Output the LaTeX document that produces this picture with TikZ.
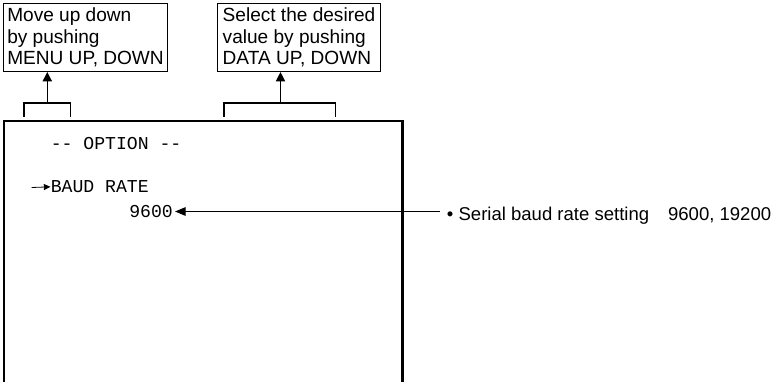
\documentclass[tikz,border=0pt]{standalone}
\usepackage{fontspec}
\setmainfont{Liberation Sans}
\setmonofont{Liberation Mono}
\usetikzlibrary{arrows.meta}

\begin{document}
\begin{tikzpicture}[x=0.75pt, y=-0.75pt,
	note/.style={draw, line width=0.8pt, align=left, inner sep=2.5pt, anchor=north west, minimum height=51pt, font=\fontsize{14.3}{16.2}\selectfont},
	lcd/.style={anchor=base west, inner sep=0pt, font=\fontsize{13.6}{16}\ttfamily},
	tip/.style={-{Triangle[length=7pt, width=7pt]}, line width=0.8pt}]
		\useasboundingbox (0,0) rectangle (772,382);
		\node[note, minimum width=123pt] (menubox) at (3,3) {Move up down\\by pushing\\MENU UP, DOWN};
		\node[note, minimum width=122.25pt] (databox) at (217,3) {Select the desired\\value by pushing\\DATA UP, DOWN};
		\draw[line width=0.8pt] (24,117) -- (24,103) -- (70.7,103) -- (70.7,117);
		\draw[line width=0.8pt] (224,117) -- (224,103) -- (335.7,103) -- (335.7,117);
		\coordinate (menuarm) at (47.3,103);
		\coordinate (dataarm) at (280.5,103);
		\draw[tip] (menuarm) -- (menuarm |- menubox.south);
		\draw[tip] (dataarm) -- (dataarm |- databox.south);
		\draw[line width=1.6pt] (4,382) -- (4,121) -- (402.5,121) -- (402.5,382);
		\node[lcd] (title) at (50.5,149) {-{}- OPTION -{}-};
		\node[lcd] (baud) at (50.5,192.7) {BAUD RATE};
		\node[lcd, inner xsep=1.5pt] (rate) at (127,217.3) {9600};
		\coordinate (cursor) at (31.7,187.5);
		\draw[-{Triangle[length=5pt, width=4.5pt]}, line width=0.6pt] (cursor) -- (baud.west);
		\node[anchor=base west, inner sep=0pt, font=\fontsize{13.9}{16.2}\selectfont] (baudnote) at (446.7,220) {\textbullet\ Serial baud rate setting\hspace{14.2pt}9600, 19200};
		\coordinate (lineend) at (440,211.5);
		\draw[-{Triangle[length=8pt, width=6.5pt]}, line width=0.8pt] (lineend) -- (lineend -| rate.east);
	\end{tikzpicture}
\end{document}
